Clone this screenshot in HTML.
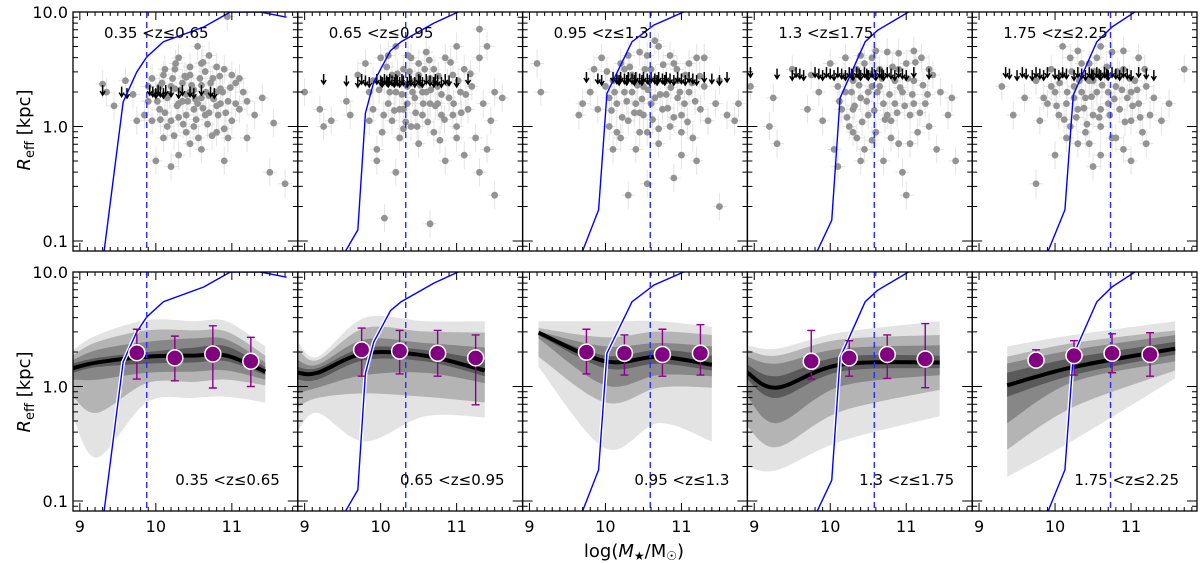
<!DOCTYPE html>
<html><head><meta charset="utf-8"><style>
html,body{margin:0;padding:0;background:#fff;}
svg{display:block;}
text{font-family:"DejaVu Sans","Liberation Sans",sans-serif;}
</style></head><body>
<svg id="chart" width="1200" height="563" viewBox="0 0 1200 563" xmlns="http://www.w3.org/2000/svg">
<g id="layer"></g>
<text transform="translate(30,130) rotate(-90)" text-anchor="middle" font-family="Liberation Serif, serif" font-size="18"><tspan font-style="italic">R</tspan><tspan font-size="13" dy="4">eff</tspan><tspan dy="-4"> [kpc]</tspan></text>
<text transform="translate(30,392) rotate(-90)" text-anchor="middle" font-family="Liberation Serif, serif" font-size="18"><tspan font-style="italic">R</tspan><tspan font-size="13" dy="4">eff</tspan><tspan dy="-4"> [kpc]</tspan></text>
<text x="634" y="557" text-anchor="middle" font-family="Liberation Serif, serif" font-size="18">log(<tspan font-style="italic">M</tspan><tspan font-size="12" dy="3">★</tspan><tspan dy="-3">/M</tspan><tspan font-size="12" dy="3">☉</tspan><tspan dy="-3">)</tspan></text>
</svg>
<script>
const panelLabels = ["0.35 <z≤0.65","0.65 <z≤0.95","0.95 <z≤1.3","1.3 <z≤1.75","1.75 <z≤2.25"];
const completenessLimit = [9.88,10.33,10.59,10.58,10.73];
const blueCurves = [
 [[9.32,0.082],[9.57,1.64],[9.75,3.0],[9.88,4.05],[10.1,5.5],[10.63,7.4],[10.98,10],[11.37,10],[11.72,9.0]],
 [[9.54,0.082],[9.70,0.125],[9.80,1.31],[9.91,2.45],[10.13,4.6],[10.27,5.5],[10.70,8],[11.02,10]],
 [[9.70,0.082],[9.91,0.187],[10.02,1.95],[10.35,5.5],[10.64,7.7],[11.03,10]],
 [[9.83,0.082],[10.02,0.152],[10.13,1.78],[10.46,5.5],[10.62,6.9],[11.03,10]],
 [[9.91,0.082],[10.13,0.187],[10.24,1.88],[10.55,5.5],[10.75,7.4],[11.05,10]]
];
// rows: [logM, outerTop, midTop, darkTop, darkestTop, median, darkestBot, darkBot, midBot, outerBot] in log10(kpc)
const bands = [
 [[8.91,0.32,0.275,0.23,0.20,0.16,0.12,0.06,-0.09,-0.27],[9.23,0.45,0.39,0.32,0.25,0.21,0.17,0.06,-0.23,-0.62],[9.88,0.58,0.49,0.39,0.30,0.26,0.20,0.12,0.03,-0.14],[10.5,0.57,0.49,0.42,0.34,0.27,0.21,0.13,0.04,-0.10],[10.93,0.57,0.48,0.41,0.35,0.27,0.22,0.14,0.06,-0.09],[11.44,0.35,0.27,0.21,0.17,0.13,0.10,0.06,0.01,-0.14]],
 [[8.91,0.39,0.33,0.23,0.17,0.12,0.06,-0.06,-0.18,-0.39],[9.17,0.26,0.23,0.19,0.16,0.12,0.06,-0.01,-0.10,-0.23],[9.79,0.60,0.51,0.41,0.34,0.29,0.23,0.10,-0.06,-0.48],[10.58,0.57,0.48,0.38,0.32,0.27,0.22,0.12,-0.09,-0.26],[11.37,0.57,0.47,0.34,0.23,0.14,0.09,0.03,-0.14,-0.27]],
 [[9.12,0.57,0.51,0.48,0.475,0.47,0.45,0.42,0.26,0.17],[10.0,0.57,0.43,0.35,0.27,0.22,0.16,0.01,-0.14,-0.54],[10.7,0.57,0.48,0.38,0.32,0.26,0.20,0.10,-0.01,-0.32],[11.4,0.52,0.45,0.35,0.27,0.19,0.14,0.09,-0.01,-0.48]],
 [[8.91,0.36,0.32,0.26,0.19,0.12,0.06,-0.09,-0.35,-0.70],[9.30,0.33,0.27,0.20,0.09,-0.01,-0.10,-0.32,-0.53,-0.73],[10.13,0.47,0.41,0.33,0.26,0.19,0.13,0.0,-0.22,-0.48],[11.44,0.57,0.45,0.36,0.27,0.21,0.16,0.10,-0.03,-0.26]],
 [[9.37,0.35,0.26,0.20,0.12,0.01,-0.09,-0.32,-0.55,-0.79],[10.24,0.45,0.38,0.32,0.25,0.17,0.10,0.04,-0.18,-0.47],[11.58,0.57,0.49,0.45,0.39,0.33,0.28,0.22,0.14,0.07]]
];
const binMass = [9.75,10.25,10.75,11.25];
const binMedian = [[0.295,0.25,0.284,0.22],[0.32,0.31,0.29,0.25],[0.30,0.29,0.28,0.29],[0.22,0.25,0.28,0.24],[0.23,0.27,0.29,0.28]];
const binErrHi = [[0.50,0.44,0.53,0.43],[0.51,0.49,0.49,0.45],[0.50,0.45,0.50,0.54],[0.49,0.40,0.45,0.55],[0.32,0.40,0.46,0.47]];
const binErrLo = [[0.065,0.05,-0.013,0.0],[0.09,0.11,0.09,-0.16],[0.11,0.10,0.09,0.10],[0.065,0.09,0.07,-0.01],[0.23,0.10,0.12,0.09]];
const galaxies = [
 "9.3,0.37 9.35,0.3 9.45,0.18 9.6,0.4 9.7,0.28 9.75,0.05 9.85,0.1 9.95,0.42 10.0,0.3 10.05,0.15 10.1,0.45 10.15,0.25 10.2,0.35 10.2,0.05 10.25,0.5 10.3,0.2 10.35,0.38 10.4,0.1 10.4,0.28 10.45,0.45 10.5,0.32 10.5,0.0 10.55,0.2 10.6,0.55 10.6,0.36 10.65,0.1 10.7,0.27 10.75,0.42 10.8,0.18 10.8,-0.05 10.85,0.33 10.9,0.5 10.95,0.22 11.0,0.05 11.05,0.38 11.1,0.15 11.15,0.3 11.2,-0.1 11.3,0.1 11.4,0.25 11.55,0.03 11.7,-0.5 11.5,-0.4 10.0,-0.3 10.1,-0.1 10.3,-0.25 10.6,-0.2 10.9,-0.3 10.45,-0.15 10.3,0.6 10.7,0.62 10.2,-0.35 10.5,0.15 10.4,0.43 10.8,0.3 10.65,0.48 11.0,0.45 10.15,0.0 10.95,-0.1 10.55,0.7 10.94,0.96 10.25,0.33 10.35,0.22 10.45,0.3 10.6,0.25 10.7,0.12 10.85,0.2 10.3,0.08 10.05,0.35 9.9,0.22 10.02,0.22 10.08,0.38 10.12,0.12 10.18,0.28 10.22,0.42 10.28,0.18 10.32,0.32 10.36,0.02 10.38,0.44 10.42,0.22 10.47,0.36 10.52,0.24 10.53,0.06 10.58,0.42 10.62,0.16 10.66,0.3 10.68,0.02 10.72,0.38 10.76,0.24 10.82,0.1 10.84,0.44 10.88,0.3 10.92,0.12 10.98,0.34 10.12,0.5 10.26,0.55 10.45,0.52 10.62,0.56 10.8,0.52 10.06,0.06 10.24,-0.08 10.4,-0.05 10.56,-0.1 10.74,-0.08 10.9,-0.02 11.05,0.2 11.1,0.42 11.2,0.22 9.9,0.35 9.95,0.05",
 "9.0,0.3 9.2,0.15 9.25,0.0 9.35,0.05 9.55,0.22 9.6,0.1 9.7,0.45 9.8,0.55 9.85,0.3 9.9,0.15 9.95,-0.2 10.0,0.6 10.05,0.4 10.1,0.2 10.15,0.05 10.2,0.7 10.2,0.3 10.25,-0.1 10.3,0.5 10.3,0.15 10.35,0.35 10.4,0.6 10.4,0.0 10.45,0.25 10.5,0.45 10.5,-0.15 10.55,0.1 10.6,0.65 10.6,0.3 10.65,0.2 10.7,-0.05 10.7,0.5 10.75,0.35 10.8,0.1 10.85,0.6 10.85,-0.3 10.9,0.25 10.95,0.45 11.0,0.0 11.0,0.7 11.05,0.3 11.1,-0.25 11.1,0.5 11.15,0.15 11.2,0.35 11.25,-0.1 11.3,0.6 11.35,0.2 11.4,-0.2 11.45,0.05 11.5,0.3 11.6,0.25 11.5,-0.6 10.05,-0.8 10.65,-0.85 9.95,-0.3 10.2,-0.4 11.3,-0.4 10.45,0.4 10.35,0.2 10.55,0.3 10.75,0.2 10.15,0.45 10.25,0.15 10.65,0.42 10.95,0.1 10.5,0.55 11.3,0.85 11.4,0.7 9.98,0.32 10.04,0.1 10.08,0.52 10.12,0.3 10.18,0.14 10.22,0.46 10.28,0.28 10.33,0.04 10.38,0.48 10.42,0.3 10.46,0.12 10.52,0.36 10.56,0.2 10.58,0.5 10.62,0.04 10.66,0.32 10.72,0.18 10.76,0.44 10.8,0.28 10.84,0.06 10.88,0.38 10.92,0.56 10.96,0.2 11.02,0.4 11.06,0.12 11.12,0.28 11.18,0.46 10.1,0.62 10.36,0.62 10.64,0.58 10.02,-0.05 10.3,-0.02 10.48,0.0 10.78,-0.12 11.0,-0.1 9.9,0.4 9.85,0.05",
 "9.1,0.55 9.15,0.3 9.65,0.1 9.7,0.2 9.8,0.3 9.85,0.5 9.9,0.15 9.95,0.6 10.0,0.35 10.05,0.0 10.1,0.4 10.15,0.2 10.2,0.55 10.2,-0.1 10.25,0.3 10.3,0.05 10.35,0.45 10.4,0.2 10.45,0.65 10.5,0.1 10.5,0.35 10.55,-0.05 10.6,0.5 10.65,0.25 10.7,0.7 10.75,0.15 10.8,0.4 10.85,0.0 10.9,0.55 10.95,0.25 11.0,0.1 11.05,0.45 11.1,0.3 11.15,-0.1 11.2,0.6 11.25,0.15 11.3,0.35 11.35,0.05 11.45,0.2 11.5,0.4 11.6,0.1 11.7,0.05 11.75,0.2 10.1,-0.2 10.4,-0.2 10.7,-0.15 11.0,-0.25 11.2,-0.3 10.55,-0.5 10.3,-0.6 11.5,-0.7 10.9,-0.45 10.35,0.3 10.6,0.2 10.8,0.28 10.25,0.5 10.45,0.12 10.05,0.25 10.95,0.4 11.1,0.55 10.65,0.75 11.3,0.6 10.02,0.48 10.08,0.14 10.12,0.3 10.18,0.42 10.22,0.08 10.28,0.22 10.32,0.52 10.38,0.12 10.42,0.36 10.48,0.24 10.52,0.5 10.56,0.32 10.62,0.06 10.66,0.42 10.72,0.28 10.76,0.54 10.82,0.16 10.86,0.34 10.9,0.08 10.94,0.5 10.98,0.3 11.04,0.2 11.08,0.04 11.14,0.38 11.18,0.22 11.24,0.44 10.3,0.62 10.55,0.62 10.85,0.62 10.15,-0.05 10.45,-0.05 10.7,-0.02 11.0,-0.05",
 "8.95,0.35 9.2,0.0 9.25,0.25 9.3,-0.15 9.5,0.5 9.7,0.15 9.75,0.45 9.85,0.3 9.9,0.05 10.0,0.55 10.05,-0.2 10.1,0.35 10.15,0.15 10.2,0.6 10.25,0.0 10.3,0.4 10.35,-0.1 10.4,0.25 10.45,0.55 10.5,0.1 10.55,0.35 10.6,-0.05 10.65,0.5 10.7,0.2 10.75,0.65 10.8,0.05 10.85,0.4 10.9,-0.15 10.95,0.3 11.0,0.55 11.05,0.1 11.1,0.4 11.15,-0.05 11.2,0.6 11.25,0.2 11.3,0.0 11.35,0.45 11.4,-0.2 11.45,0.3 11.55,0.1 11.6,0.25 11.65,-0.3 10.1,-0.35 10.4,-0.3 10.7,-0.3 10.95,-0.4 11.0,-0.6 10.45,-0.2 10.3,0.15 10.5,0.3 10.65,0.35 10.85,0.2 10.35,0.5 10.55,0.6 11.1,0.2 10.2,0.3 10.75,0.1 10.9,0.5 11.3,0.5 10.12,0.22 10.18,0.44 10.22,0.08 10.28,0.3 10.32,0.18 10.38,0.36 10.42,0.04 10.48,0.22 10.52,0.46 10.58,0.14 10.62,0.3 10.68,0.42 10.72,0.06 10.78,0.28 10.82,0.52 10.88,0.12 10.92,0.34 10.98,0.18 11.02,0.42 11.08,0.28 11.12,0.56 11.18,0.12 11.22,0.36 11.28,0.28 10.4,0.62 10.6,0.66 10.9,0.64 11.1,0.66 10.3,-0.05 10.55,-0.12 10.8,-0.1 11.05,-0.15",
 "9.3,0.35 9.45,0.1 9.6,0.25 9.75,0.4 9.8,0.05 9.9,0.2 9.95,0.5 10.0,0.3 10.05,0.1 10.1,0.45 10.15,0.2 10.2,0.6 10.2,0.0 10.25,0.35 10.3,0.15 10.35,0.55 10.4,0.25 10.4,-0.05 10.45,0.4 10.5,0.1 10.55,0.6 10.55,0.3 10.6,0.0 10.65,0.45 10.7,0.2 10.75,0.65 10.8,0.35 10.8,-0.1 10.85,0.15 10.9,0.5 10.95,0.25 11.0,0.05 11.05,0.4 11.1,0.6 11.1,0.2 11.15,-0.05 11.2,0.35 11.25,0.1 11.3,0.25 11.4,0.05 11.5,0.2 11.7,0.5 10.0,-0.25 10.3,-0.15 10.6,-0.25 10.9,-0.2 11.2,-0.15 10.5,-0.35 11.0,-0.3 9.75,-0.5 10.35,0.3 10.5,0.4 10.7,0.3 10.85,0.45 10.25,0.25 10.6,0.15 11.0,0.3 10.45,0.55 10.1,0.7 10.02,0.18 10.06,0.38 10.12,0.06 10.16,0.3 10.22,0.48 10.28,0.08 10.32,0.4 10.38,0.16 10.42,0.02 10.48,0.26 10.52,0.48 10.58,0.08 10.62,0.36 10.68,0.52 10.72,0.1 10.78,0.24 10.82,0.48 10.88,0.32 10.92,0.04 10.98,0.42 11.02,0.18 11.08,0.32 11.12,0.08 11.18,0.5 10.3,0.66 10.6,0.7 10.9,0.66 10.15,-0.1 10.45,-0.15 10.75,-0.1 9.95,0.35 9.85,0.25"
];
const upperLimitMass = [
 [9.3,9.55,9.62,9.92,9.96,10.0,10.03,10.06,10.1,10.13,10.2,10.3,10.35,10.45,10.5,10.6,10.72,10.77],
 [9.25,9.55,9.7,9.75,9.8,9.85,9.95,10.0,10.02,10.05,10.08,10.1,10.12,10.15,10.18,10.2,10.22,10.25,10.28,10.3,10.35,10.38,10.4,10.45,10.5,10.52,10.55,10.6,10.65,10.7,10.72,10.75,10.8,10.85,10.9,11.0,11.15],
 [9.75,9.9,9.95,10.1,10.15,10.18,10.2,10.25,10.28,10.3,10.35,10.38,10.4,10.45,10.48,10.5,10.55,10.58,10.6,10.65,10.68,10.7,10.75,10.78,10.8,10.85,10.9,10.95,11.0,11.05,11.1,11.15,11.2,11.3,11.4,11.5,11.6],
 [8.95,9.3,9.5,9.55,9.6,9.65,9.8,9.85,9.9,9.95,10.0,10.05,10.1,10.15,10.2,10.25,10.28,10.3,10.35,10.38,10.4,10.45,10.48,10.5,10.55,10.58,10.6,10.65,10.68,10.7,10.75,10.8,10.85,10.9,10.95,11.0,11.1,11.3],
 [9.35,9.4,9.5,9.57,9.62,9.7,9.75,9.8,9.85,9.9,10.0,10.05,10.1,10.15,10.25,10.3,10.35,10.4,10.45,10.48,10.5,10.55,10.58,10.6,10.65,10.68,10.7,10.75,10.8,10.85,10.9,10.95,11.0,11.1,11.2,11.3]
];
const upperLimitR = [1.88,2.35,2.45,2.7,2.7];
const xTicks = [9,10,11];
const xTickLabels = ["9","10","11"];
const yTicks = [0.1,1,10];
const yTickLabels = ["0.1","1.0","10.0"];

const NS="http://www.w3.org/2000/svg";
const layer=document.getElementById('layer');
const PW=224.8, LEFT0=73, XMIN=8.91, XPX=76, DEC=114.5;
const ROWTOP=[12,272], ROWBOT=[251,511];
function X(p,m){return LEFT0+p*PW+(m-XMIN)*XPX;}
function Y(row,lr){return ROWTOP[row]+(1-lr)*DEC;}
function mk(tag,attrs,parent){const e=document.createElementNS(NS,tag);for(const k in attrs)e.setAttribute(k,attrs[k]);(parent||layer).appendChild(e);return e;}
function smooth(pts){let d="M"+pts[0][0]+","+pts[0][1];for(let i=0;i<pts.length-1;i++){const p0=pts[i-1]||pts[i],p1=pts[i],p2=pts[i+1],p3=pts[i+2]||p2;const c1=[p1[0]+(p2[0]-p0[0])/6,p1[1]+(p2[1]-p0[1])/6],c2=[p2[0]-(p3[0]-p1[0])/6,p2[1]-(p3[1]-p1[1])/6];d+=" C"+c1+" "+c2+" "+p2;}return d;}
function band(p,ti,bi,fill,g){const rows=bands[p];const top=rows.map(r=>[X(p,r[0]),Y(1,r[ti])]);const bot=rows.map(r=>[X(p,r[0]),Y(1,r[bi])]).reverse();const d=smooth(top)+" L"+bot[0]+" "+smooth(bot).slice(1)+" Z";const e=mk('path',{d:d,fill:fill,stroke:'none'},g);return e;}

for(let p=0;p<5;p++){
 const left=LEFT0+p*PW;
 for(let row=0;row<2;row++){
  const g=mk('g',{});
  
  
  const cid='c'+p+row;
  const cp=mk('clipPath',{id:cid},g);mk('rect',{x:left,y:ROWTOP[row],width:PW,height:ROWBOT[row]-ROWTOP[row]},cp);
  const inner=mk('g',{'clip-path':'url(#'+cid+')'},g);
  if(row===0){
   const pts=galaxies[p].split(' ').map(s=>s.split(',').map(Number));
   pts.forEach(q=>{
    const cx=X(p,q[0]),cy=Y(0,q[1]);
    mk('line',{x1:cx,x2:cx,y1:cy-14,y2:cy+14,stroke:'#e4e4e4','stroke-width':1},inner);
    mk('line',{x1:cx-7,x2:cx+7,y1:cy,y2:cy,stroke:'#e4e4e4','stroke-width':1},inner);
   });
   pts.forEach(q=>{
    const c=mk('circle',{cx:X(p,q[0]),cy:Y(0,q[1]),r:3.4,fill:'#939393'},inner);
    
    
   });
   upperLimitMass[p].forEach((m,i)=>{
    const cx=X(p,m),cy=Y(0,Math.log10(upperLimitR[p]))+(i%3)*1.5;
    const a=mk('path',{d:`M${cx},${cy-10} L${cx},${cy} M${cx-2.5},${cy-4} L${cx},${cy} L${cx+2.5},${cy-4}`,stroke:'#000','stroke-width':1.5,fill:'none'},inner);
    
    
   });
  } else {
   band(p,1,9,'#e3e3e3',inner);band(p,2,8,'#b4b4b4',inner);band(p,3,7,'#878787',inner);band(p,4,6,'#5a5a5a',inner);
   const med=mk('path',{d:smooth(bands[p].map(r=>[X(p,r[0]),Y(1,r[5])])),stroke:'#000','stroke-width':4,fill:'none'},inner);
   
   
  }
  const cur=blueCurves[p].map(q=>X(p,q[0])+","+Y(row,Math.log10(q[1]))).join(" ");
  if(row===1) mk('polyline',{points:cur,stroke:'#fff','stroke-width':4,fill:'none'},inner);
  const bl=mk('polyline',{points:cur,stroke:'#0000ff','stroke-width':1.4,fill:'none'},inner);
  
  
  const vx=X(p,completenessLimit[p]);
  const vl=mk('line',{x1:vx,x2:vx,y1:ROWTOP[row],y2:ROWBOT[row],stroke:'#2a2aff','stroke-width':1.4,'stroke-dasharray':'6,4'},inner);
  
  
  if(row===1){
   binMass.forEach((m,i)=>{
    const cx=X(p,m),yh=Y(1,binErrHi[p][i]),yl=Y(1,binErrLo[p][i]);
    mk('path',{d:`M${cx},${yh} L${cx},${yl} M${cx-4},${yh} L${cx+4},${yh} M${cx-4},${yl} L${cx+4},${yl}`,stroke:'#8b008b','stroke-width':1.4,fill:'none'},inner);
    const c=mk('circle',{cx:cx,cy:Y(1,binMedian[p][i]),r:8,fill:'#800080',stroke:'#fff','stroke-width':1.5},inner);
    
    
   });
  }
  const top=ROWTOP[row],bot=ROWBOT[row],right=left+PW;
  let d="";
  for(let m=9;m<=11.81;m+=0.1){const xx=X(p,m);const major=Math.abs(m-Math.round(m))<0.01;const L=major?8:4;d+=`M${xx},${bot} L${xx},${bot-L} M${xx},${top} L${xx},${top+L} `;}
  for(let dec=-2;dec<=1;dec++)for(let k=1;k<10;k++){const v=k*Math.pow(10,dec);const lr=Math.log10(v);if(lr<-1.09||lr>1.001)continue;const yy=Y(row,lr);const L=k===1?10:5;d+=`M${left},${yy} L${left+L},${yy} M${right},${yy} L${right-L},${yy} `;}
  mk('path',{d:d,stroke:'#000','stroke-width':1,fill:'none'},g);
  const fr=mk('rect',{x:left,y:top,width:PW,height:bot-top,fill:'none',stroke:'#000','stroke-width':1.3},g);
  
  
  const t=mk('text',row===0?{x:left+31,y:top+26,'font-size':15}:{x:right-18,y:bot-26,'font-size':15,'text-anchor':'end'},g);
  t.textContent=panelLabels[p];
  
  
  if(p===0){
   yTicks.forEach((v,i)=>{const tl=mk('text',{x:left-5,y:Y(row,Math.log10(v))+6,'font-size':16,'text-anchor':'end'},g);tl.textContent=yTickLabels[i];
    
    });
  }
  if(row===1){
   xTicks.forEach((v,i)=>{const tl=mk('text',{x:X(p,v),y:532,'font-size':16,'text-anchor':'middle'},g);tl.textContent=xTickLabels[i];
    
    });
  }
 }
}
</script>
</body></html>
